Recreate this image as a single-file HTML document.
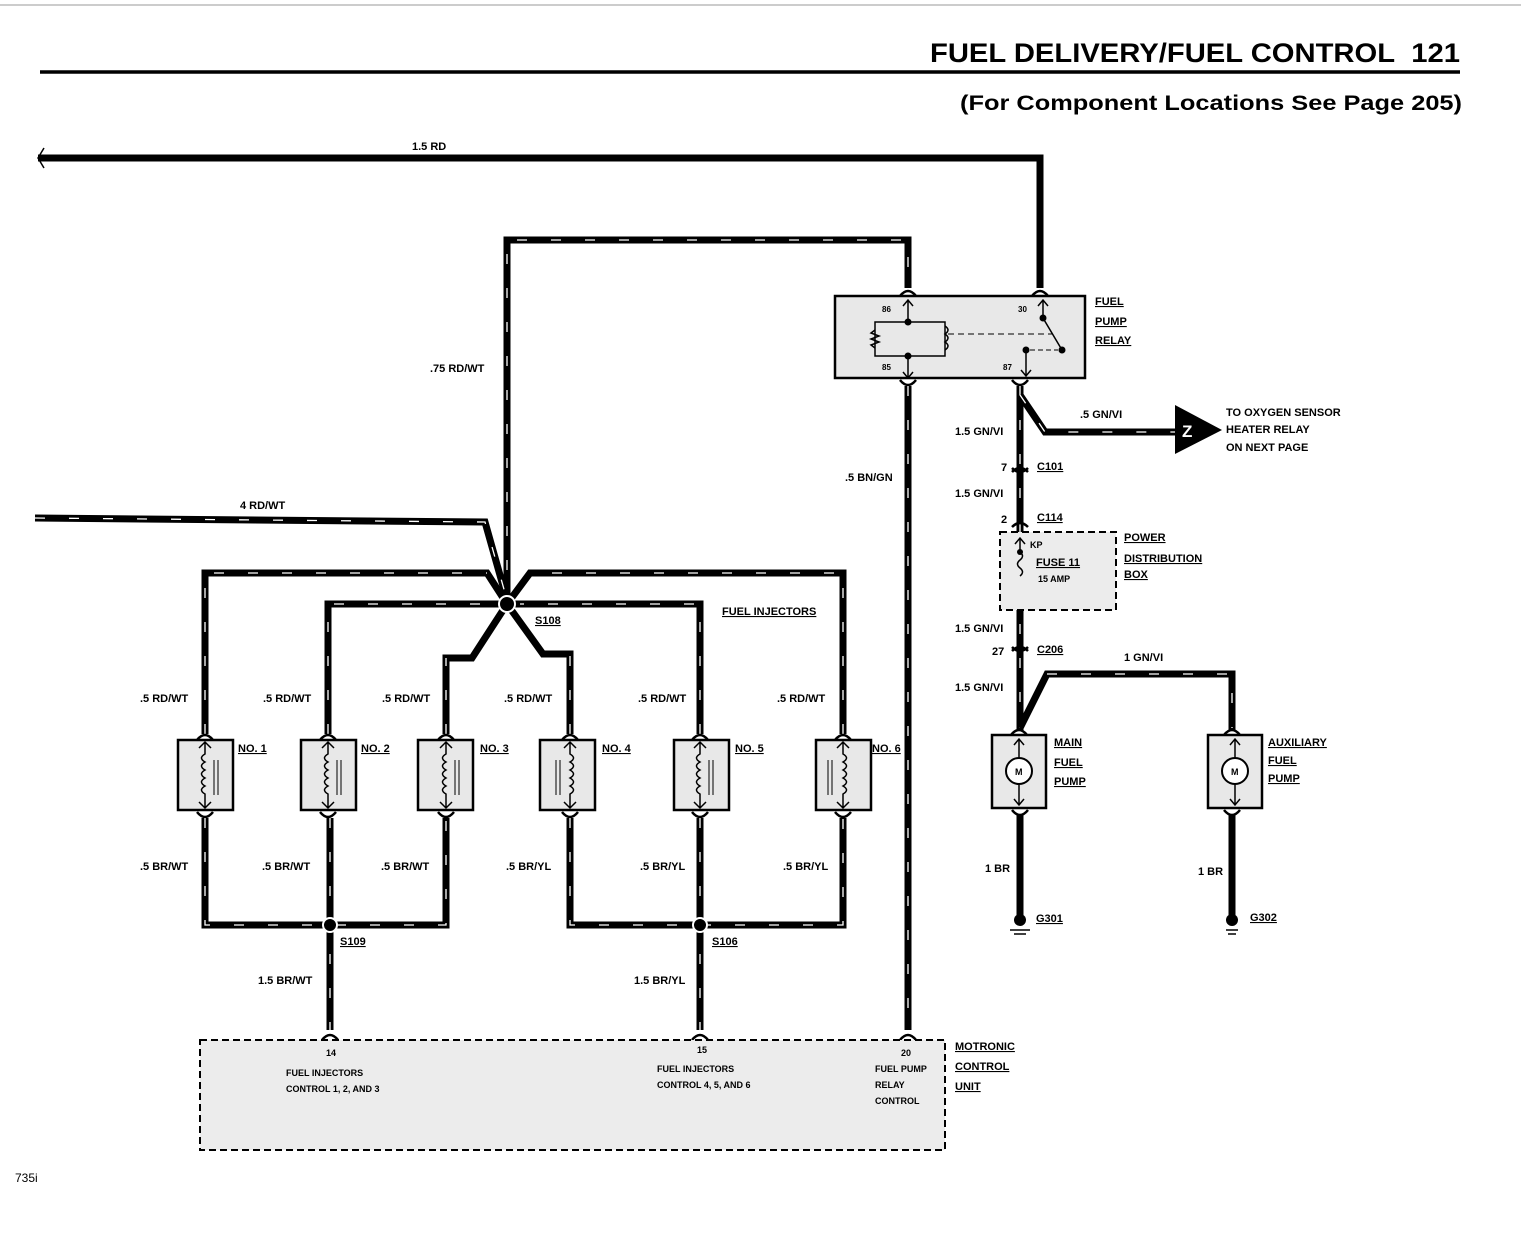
<!DOCTYPE html>
<html><head><meta charset="utf-8"><style>
html,body{margin:0;padding:0;background:#fff;}
svg{display:block;}
text{font-family:"Liberation Sans",Arial,sans-serif;font-weight:bold;fill:#000;}
.s{font-size:11px;}
.u{text-decoration:underline;}
.w{fill:none;stroke:#000;stroke-width:7;stroke-linejoin:miter;}
.st{fill:none;stroke:#fff;stroke-width:1.3;stroke-dasharray:10 24;}
.box{fill:#e8e8e8;stroke:#000;stroke-width:2.5;}
.dbox{fill:#ececec;stroke:#000;stroke-width:2;stroke-dasharray:7 4;}
.thin{fill:none;stroke:#000;stroke-width:1.5;}
.fk{fill:none;stroke:#000;stroke-width:2.5;}
</style></head><body>
<svg width="1521" height="1238" viewBox="0 0 1521 1238" xmlns="http://www.w3.org/2000/svg">
<line x1="0" y1="5" x2="1521" y2="5" stroke="#999" stroke-width="1"/>
<text x="1460" y="62" font-size="27" text-anchor="end" textLength="530" lengthAdjust="spacingAndGlyphs">FUEL DELIVERY/FUEL CONTROL&#160;&#160;121</text>
<line x1="40" y1="72" x2="1460" y2="72" stroke="#000" stroke-width="3.5"/>
<text x="1462" y="110" font-size="21" text-anchor="end" textLength="502" lengthAdjust="spacingAndGlyphs">(For Component Locations See Page 205)</text>

<!-- 1.5 RD -->
<path class="w" d="M38,158 H1040 V288"/>
<path d="M44,148 l-6,10 l6,10" class="thin"/>
<text class="s" x="412" y="150">1.5 RD</text>

<!-- relay box -->
<rect class="box" x="835" y="296" width="250" height="82"/>
<text class="s u" x="1095" y="305">FUEL</text>
<text class="s u" x="1095" y="325">PUMP</text>
<text class="s u" x="1095" y="344">RELAY</text>
<text x="882" y="312" font-size="8">86</text><text x="882" y="370" font-size="8">85</text>
<text x="1018" y="312" font-size="8">30</text><text x="1003" y="370" font-size="8">87</text>
<path class="thin" d="M908,300 V322 M903,306 l5,-6 l5,6 M908,356 V378 M903,372 l5,6 l5,-6"/>
<path class="thin" d="M908,322 H875 V356 H945 V322 H908"/>
<path class="thin" d="M875,330 l-4,3 l8,3 l-8,3 l8,3 l-8,3 l4,3"/>
<path class="thin" d="M945,326 q6,4 0,8 q6,4 0,8 q6,4 0,8"/>
<circle cx="908" cy="322" r="3.5"/><circle cx="908" cy="356" r="3.5"/>
<path d="M948,334 H1052" stroke="#000" stroke-width="1" stroke-dasharray="6 4"/>
<path class="thin" d="M1043,300 V318 L1062,350 M1038,306 l5,-6 l5,6"/>
<circle cx="1043" cy="318" r="3.5"/><circle cx="1062" cy="350" r="3.5"/><circle cx="1026" cy="350" r="3.5"/>
<path d="M1030,350 H1058" stroke="#000" stroke-width="1" stroke-dasharray="5 3"/>
<path class="thin" d="M1026,350 V376 M1021,370 l5,6 l5,-6"/>
<path class="fk" d="M900,296 q8,-10 16,0 M1032,296 q8,-10 16,0 M900,380 q8,10 16,0 M1012,380 q8,10 16,0"/>

<!-- .75 RD/WT -->
<path class="w" d="M507,604 V240 H908 V288"/><path class="st" d="M507,604 V240 H908 V288"/>
<text class="s" x="430" y="372">.75 RD/WT</text>
<!-- .5 BN/GN -->
<path class="w" d="M908,386 V1030"/><path class="st" d="M908,386 V1030"/>
<text class="s" x="845" y="481">.5 BN/GN</text>

<!-- 87 side -->
<path class="w" d="M1020,386 V731"/><path class="st" d="M1020,386 V728"/>
<path class="w" d="M1020,395 L1045,432 H1180"/><path class="st" d="M1020,395 L1045,432 H1180"/>
<polygon points="1175,405 1222,430 1175,454"/>
<text x="1182" y="437" font-size="17" style="fill:#fff">Z</text>
<text class="s" x="1080" y="418">.5 GN/VI</text>
<text class="s" x="955" y="435">1.5 GN/VI</text>
<text class="s" x="1226" y="416">TO OXYGEN SENSOR</text>
<text class="s" x="1226" y="433">HEATER RELAY</text>
<text class="s" x="1226" y="451">ON NEXT PAGE</text>
<path class="fk" d="M1012,472 q8,-8 16,0 M1012,468 q8,8 16,0 M1012,527 q8,-8 16,0 M1012,651 q8,-8 16,0 M1012,647 q8,8 16,0"/>
<text class="s" x="1001" y="471">7</text><text class="s u" x="1037" y="470">C101</text>
<text class="s" x="955" y="497">1.5 GN/VI</text>
<text class="s" x="1001" y="523">2</text><text class="s u" x="1037" y="521">C114</text>
<rect class="dbox" x="1000" y="532" width="116" height="78"/>
<text x="1030" y="548" font-size="9">KP</text>
<text class="s u" x="1036" y="566">FUSE 11</text><text x="1038" y="582" font-size="9">15 AMP</text>
<path class="thin" d="M1020,538 V552 M1015,544 l5,-6 l5,6 M1020,552 q5,4 0,8 q-5,4 0,8 q5,4 0,8"/>
<circle cx="1020" cy="552" r="3"/>
<text class="s u" x="1124" y="541">POWER</text><text class="s u" x="1124" y="562">DISTRIBUTION</text><text class="s u" x="1124" y="578">BOX</text>
<text class="s" x="955" y="632">1.5 GN/VI</text>
<text class="s" x="992" y="655">27</text><text class="s u" x="1037" y="653">C206</text>
<text class="s" x="955" y="691">1.5 GN/VI</text>
<path class="w" d="M1020,728 L1047,674 H1232 V731"/><path class="st" d="M1047,674 H1232 V728"/>
<text class="s" x="1124" y="661">1 GN/VI</text>
<rect class="box" x="992" y="735" width="54" height="73"/>
<rect class="box" x="1208" y="735" width="54" height="73"/>
<path class="thin" d="M1019,739 V805 M1014,745 l5,-6 l5,6 M1014,799 l5,6 l5,-6 M1235,739 V805 M1230,745 l5,-6 l5,6 M1230,799 l5,6 l5,-6"/>
<circle cx="1019" cy="771" r="13" fill="#fff" stroke="#000" stroke-width="2"/><text x="1015" y="775" font-size="9">M</text>
<circle cx="1235" cy="771" r="13" fill="#fff" stroke="#000" stroke-width="2"/><text x="1231" y="775" font-size="9">M</text>
<path class="fk" d="M1011,735 q8,-10 16,0 M1224,735 q8,-10 16,0 M1012,810 q8,10 16,0 M1224,810 q8,10 16,0"/>
<text class="s u" x="1054" y="746">MAIN</text><text class="s u" x="1054" y="766">FUEL</text><text class="s u" x="1054" y="785">PUMP</text>
<text class="s u" x="1268" y="746">AUXILIARY</text><text class="s u" x="1268" y="764">FUEL</text><text class="s u" x="1268" y="782">PUMP</text>
<path class="w" d="M1020,814 V918 M1232,814 V918"/>
<circle cx="1020" cy="920" r="6"/><circle cx="1232" cy="920" r="6"/>
<path class="thin" d="M1010,930 H1030 M1014,934 H1026 M1226,930 H1238 M1228,934 H1236"/>
<text class="s" x="985" y="872">1 BR</text><text class="s" x="1198" y="875">1 BR</text>
<text class="s u" x="1036" y="922">G301</text><text class="s u" x="1250" y="921">G302</text>

<!-- 4 RD/WT -->
<path class="w" d="M35,518 L485,522 L507,600"/><path class="st" d="M35,518 L485,522 L507,600"/>
<text class="s" x="240" y="509">4 RD/WT</text>

<!-- injector tops -->
<path class="w" d="M205,734 V573 H487 L507,604"/><path class="st" d="M205,734 V573 H487"/>
<path class="w" d="M328,734 V604 H507"/><path class="st" d="M328,734 V604 H500"/>
<path class="w" d="M446,734 V658 H472 L507,604"/><path class="st" d="M446,734 V658"/>
<path class="w" d="M570,734 V654 H543 L507,604"/><path class="st" d="M570,734 V654"/>
<path class="w" d="M700,734 V604 H507"/><path class="st" d="M700,734 V604 H520"/>
<path class="w" d="M843,734 V573 H530 L507,604"/><path class="st" d="M843,734 V573 H530"/>
<circle cx="507" cy="604" r="8" stroke="#fff" stroke-width="2"/>
<text class="s u" x="535" y="624">S108</text>
<text class="s u" x="722" y="615">FUEL INJECTORS</text>
<text class="s" x="140" y="702">.5 RD/WT</text><text class="s" x="263" y="702">.5 RD/WT</text>
<text class="s" x="382" y="702">.5 RD/WT</text><text class="s" x="504" y="702">.5 RD/WT</text>
<text class="s" x="638" y="702">.5 RD/WT</text><text class="s" x="777" y="702">.5 RD/WT</text>
<!-- injector boxes -->
<rect class="box" x="178" y="740" width="55" height="70"/><rect class="box" x="301" y="740" width="55" height="70"/>
<rect class="box" x="418" y="740" width="55" height="70"/><rect class="box" x="540" y="740" width="55" height="70"/>
<rect class="box" x="674" y="740" width="55" height="70"/><rect class="box" x="816" y="740" width="55" height="70"/>
<g class="thin">
<path d="M205,742 V754 q-7,4 0,8 q-7,4 0,8 q-7,4 0,8 q-7,4 0,8 q-7,4 0,8 V808 M199,748 l6,-6 l6,6 M199,802 l6,6 l6,-6"/>
<path d="M328,742 V754 q-7,4 0,8 q-7,4 0,8 q-7,4 0,8 q-7,4 0,8 q-7,4 0,8 V808 M322,748 l6,-6 l6,6 M322,802 l6,6 l6,-6"/>
<path d="M446,742 V754 q-7,4 0,8 q-7,4 0,8 q-7,4 0,8 q-7,4 0,8 q-7,4 0,8 V808 M440,748 l6,-6 l6,6 M440,802 l6,6 l6,-6"/>
<path d="M570,742 V754 q7,4 0,8 q7,4 0,8 q7,4 0,8 q7,4 0,8 q7,4 0,8 V808 M564,748 l6,-6 l6,6 M564,802 l6,6 l6,-6"/>
<path d="M700,742 V754 q-7,4 0,8 q-7,4 0,8 q-7,4 0,8 q-7,4 0,8 q-7,4 0,8 V808 M694,748 l6,-6 l6,6 M694,802 l6,6 l6,-6"/>
<path d="M843,742 V754 q7,4 0,8 q7,4 0,8 q7,4 0,8 q7,4 0,8 q7,4 0,8 V808 M837,748 l6,-6 l6,6 M837,802 l6,6 l6,-6"/>
<path stroke-width="1" d="M214,760 V795 M218,760 V795 M337,760 V795 M341,760 V795 M455,760 V795 M459,760 V795 M556,760 V795 M560,760 V795 M709,760 V795 M713,760 V795 M828,760 V795 M832,760 V795"/>
</g>
<path class="fk" d="M197,740 q8,-10 16,0 M320,740 q8,-10 16,0 M438,740 q8,-10 16,0 M562,740 q8,-10 16,0 M692,740 q8,-10 16,0 M835,740 q8,-10 16,0"/>
<path class="fk" d="M197,812 q8,10 16,0 M320,812 q8,10 16,0 M438,812 q8,10 16,0 M562,812 q8,10 16,0 M692,812 q8,10 16,0 M835,812 q8,10 16,0"/>
<text class="s u" x="238" y="752">NO. 1</text><text class="s u" x="361" y="752">NO. 2</text>
<text class="s u" x="480" y="752">NO. 3</text><text class="s u" x="602" y="752">NO. 4</text>
<text class="s u" x="735" y="752">NO. 5</text><text class="s u" x="872" y="752">NO. 6</text>
<!-- bottoms -->
<path class="w" d="M205,818 V925 H446 V818 M330,818 V1030"/><path class="st" d="M205,818 V925 H446 V818 M330,818 V1030"/>
<path class="w" d="M570,818 V925 H843 V818 M700,818 V1030"/><path class="st" d="M570,818 V925 H843 V818 M700,818 V1030"/>
<circle cx="330" cy="925" r="7" stroke="#fff" stroke-width="2"/><circle cx="700" cy="925" r="7" stroke="#fff" stroke-width="2"/>
<text class="s u" x="340" y="945">S109</text><text class="s u" x="712" y="945">S106</text>
<text class="s" x="140" y="870">.5 BR/WT</text><text class="s" x="262" y="870">.5 BR/WT</text>
<text class="s" x="381" y="870">.5 BR/WT</text><text class="s" x="506" y="870">.5 BR/YL</text>
<text class="s" x="640" y="870">.5 BR/YL</text><text class="s" x="783" y="870">.5 BR/YL</text>
<text class="s" x="258" y="984">1.5 BR/WT</text><text class="s" x="634" y="984">1.5 BR/YL</text>
<path class="fk" d="M322,1040 q8,-10 16,0 M692,1040 q8,-10 16,0 M900,1040 q8,-10 16,0"/>

<!-- MCU -->
<rect class="dbox" x="200" y="1040" width="745" height="110"/>
<text x="326" y="1056" font-size="9">14</text><text x="697" y="1053" font-size="9">15</text><text x="901" y="1056" font-size="9">20</text>
<text x="286" y="1076" font-size="9">FUEL INJECTORS</text><text x="286" y="1092" font-size="9">CONTROL 1, 2, AND 3</text>
<text x="657" y="1072" font-size="9">FUEL INJECTORS</text><text x="657" y="1088" font-size="9">CONTROL 4, 5, AND 6</text>
<text x="875" y="1072" font-size="9">FUEL PUMP</text><text x="875" y="1088" font-size="9">RELAY</text><text x="875" y="1104" font-size="9">CONTROL</text>
<text class="s u" x="955" y="1050">MOTRONIC</text><text class="s u" x="955" y="1070">CONTROL</text><text class="s u" x="955" y="1090">UNIT</text>
<text x="15" y="1182" font-size="12" style="font-weight:normal">735i</text>
</svg>
</body></html>
